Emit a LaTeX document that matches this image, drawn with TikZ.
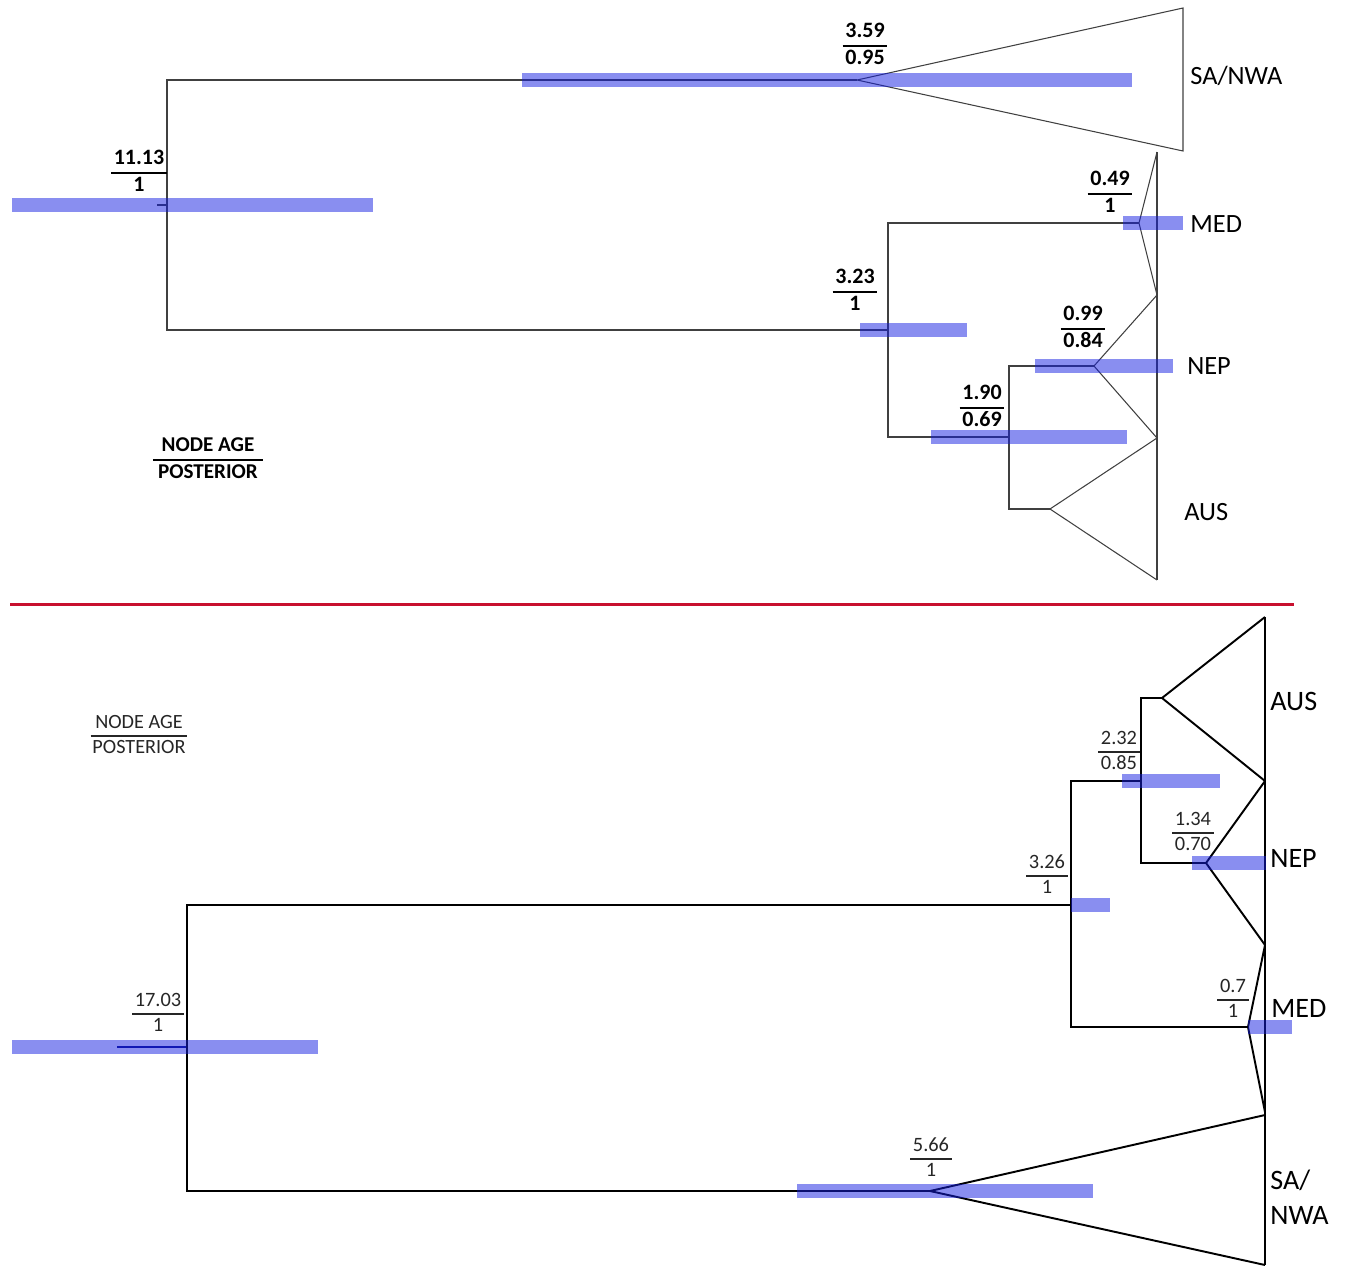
\documentclass[tikz,border=0pt]{standalone}
\usepackage{fontspec}
\setmainfont{Carlito}
\usepackage{array}

\definecolor{hpdblue}{RGB}{20,30,225}
\definecolor{sepred}{RGB}{200,16,46}

% node age over posterior
\newcommand{\agepost}[2]{\begin{tabular}{@{\hspace{1.5pt}}c@{\hspace{1.5pt}}}#1\\\hline #2\end{tabular}}
% 95% HPD bar: from, to, height
\newcommand{\hpdbar}[3]{\fill[hpd] (#1,#3-7) rectangle (#2,#3+7);}

\begin{document}
\begin{tikzpicture}[x=0.02cm, y=-0.02cm,
    tline/.style={black!75, line width=0.6pt},
    bline/.style={black, line width=1.1pt},
    hpd/.style={fill=hpdblue, fill opacity=0.5},
    tfrac/.style={inner sep=0pt, font=\bfseries\fontsize{12.5}{15}\selectfont,
        execute at begin node={\setlength{\arrayrulewidth}{1.6pt}\renewcommand{\arraystretch}{0.9}}},
    bfrac/.style={inner sep=0pt, black!85, font=\fontsize{11.6}{14}\selectfont,
        execute at begin node={\setlength{\arrayrulewidth}{0.9pt}\renewcommand{\arraystretch}{0.95}}},
    tclade/.style={anchor=west, inner sep=0pt, font=\fontsize{15}{18}\selectfont},
    bclade/.style={anchor=west, inner sep=0pt, align=left, font=\fontsize{16}{20}\selectfont}]
    \useasboundingbox (0,0) rectangle (1346,1265);

    % 1. upper tree: nodes
    \coordinate (tRoot) at (167,205);
    \coordinate (tStub) at (157,205);
    \coordinate (tSA)   at (857,80);
    \coordinate (tB)    at (888,330);
    \coordinate (tMED)  at (1139,223);
    \coordinate (tC)    at (1009,437);
    \coordinate (tNEP)  at (1094,366);
    \coordinate (tAUS)  at (1050,509);

    % 2. upper tree: branches and collapsed clades
    \draw[tline] (tStub) -- (tRoot);
    \draw[tline] (tRoot) |- (tSA);
    \draw[tline] (tRoot) |- (tB);
    \draw[tline] (tB) |- (tMED);
    \draw[tline] (tB) |- (tC);
    \draw[tline] (tC) |- (tNEP);
    \draw[tline] (tC) |- (tAUS);
    \draw[tline] (1183,8) -- (tSA) -- (1183,151) -- cycle;
    \draw[tline] (1157,152) -- (tMED) -- (1157,295);
    \draw[tline] (1157,295) -- (tNEP) -- (1157,438);
    \draw[tline] (1157,438) -- (tAUS) -- (1157,580);
    \draw[tline] (1157,152) -- (1157,580);

    % 3. upper tree: HPD bars
    \hpdbar{12}{373}{205}
    \hpdbar{522}{1132}{80}
    \hpdbar{860}{967}{330}
    \hpdbar{1123}{1183}{223}
    \hpdbar{931}{1127}{437}
    \hpdbar{1035}{1173}{366}

    % 4. upper tree: labels
    \node[tfrac] (tRootLab) at (139,173) {\agepost{11.13}{1}};
    \node[tfrac] (tSALab)   at (865,46)  {\agepost{3.59}{0.95}};
    \node[tfrac] (tBLab)    at (855,292) {\agepost{3.23}{1}};
    \node[tfrac] (tMEDLab)  at (1110,194) {\agepost{0.49}{1}};
    \node[tfrac] (tNEPLab)  at (1083,329) {\agepost{0.99}{0.84}};
    \node[tfrac] (tCLab)    at (982,408) {\agepost{1.90}{0.69}};
    \node[tclade] (tSAName)  at (1190,76)  {SA/NWA};
    \node[tclade] (tMEDName) at (1190,224) {MED};
    \node[tclade] (tNEPName) at (1187,366) {NEP};
    \node[tclade] (tAUSName) at (1184,512) {AUS};
    \node[tfrac, font=\bfseries\fontsize{12}{15}\selectfont] (tKey) at (208,460)
        {\begin{tabular}{@{\hspace{3pt}}c@{\hspace{3pt}}}NODE AGE\\\hline POSTERIOR\end{tabular}};

    % 5. separator
    \draw[sepred, line width=1.7pt] (10,604) -- (1294,604);

    % 6. lower tree: nodes
    \coordinate (bRoot) at (187,1047);
    \coordinate (bStub) at (117,1047);
    \coordinate (bB)    at (1071,905);
    \coordinate (bSA)   at (930,1191);
    \coordinate (bC)    at (1141,781);
    \coordinate (bMED)  at (1248,1027);
    \coordinate (bAUS)  at (1162,698);
    \coordinate (bNEP)  at (1206,863);

    % 7. lower tree: branches and collapsed clades
    \draw[bline, hpdblue!60!black] (bStub) -- (bRoot);
    \draw[bline] (bRoot) |- (bB);
    \draw[bline] (bRoot) |- (bSA);
    \draw[bline] (bB) |- (bC);
    \draw[bline] (bB) |- (bMED);
    \draw[bline] (bC) |- (bAUS);
    \draw[bline] (bC) |- (bNEP);
    \draw[bline] (1265,617) -- (bAUS) -- (1265,781);
    \draw[bline] (1265,781) -- (bNEP) -- (1265,945);
    \draw[bline] (1265,945) -- (bMED) -- (1265,1112);
    \draw[bline] (1265,1115) -- (bSA) -- (1265,1265);
    \draw[black, line width=1.6pt] (1265,617) -- (1265,1265);

    % 8. lower tree: HPD bars
    \hpdbar{12}{318}{1047}
    \hpdbar{1071}{1110}{905}
    \hpdbar{1122}{1220}{781}
    \hpdbar{1192}{1266}{863}
    \hpdbar{1248}{1292}{1027}
    \hpdbar{797}{1093}{1191}

    % 9. lower tree: labels
    \node[bfrac] (bRootLab) at (158,1014) {\agepost{17.03}{1}};
    \node[bfrac] (bBLab)    at (1047,876) {\agepost{3.26}{1}};
    \node[bfrac] (bCLab)    at (1119,752) {\agepost{2.32}{0.85}};
    \node[bfrac] (bNEPLab)  at (1193,833) {\agepost{1.34}{0.70}};
    \node[bfrac] (bMEDLab)  at (1233,1000) {\agepost{0.7}{1}};
    \node[bfrac] (bSALab)   at (931,1159) {\agepost{5.66}{1}};
    \node[bclade] (bAUSName) at (1270,701)  {AUS};
    \node[bclade] (bNEPName) at (1270,858)  {NEP};
    \node[bclade] (bMEDName) at (1271,1008) {MED};
    \node[bclade] (bSAName)  at (1270,1197) {SA/\\NWA};
    \node[bfrac, font=\fontsize{11.5}{14}\selectfont] (bKey) at (139,736)
        {\begin{tabular}{@{\hspace{1pt}}c@{\hspace{1pt}}}NODE AGE\\\hline POSTERIOR\end{tabular}};
\end{tikzpicture}
\end{document}
